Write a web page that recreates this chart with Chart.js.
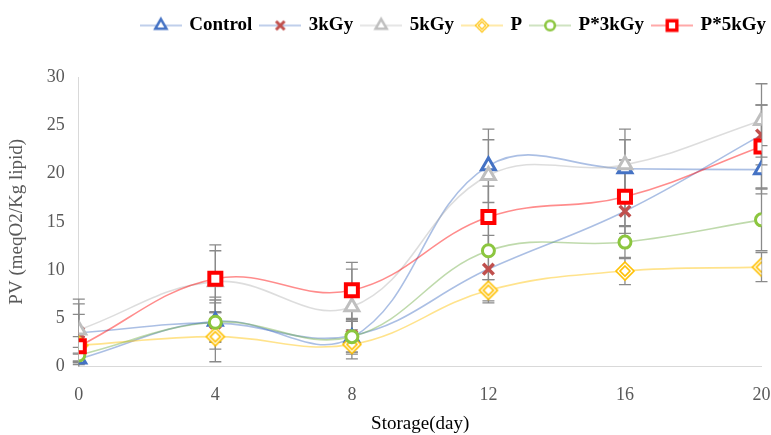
<!DOCTYPE html>
<html>
<head>
<meta charset="utf-8">
<script src="https://cdn.jsdelivr.net/npm/chart.js@4.4.1/dist/chart.umd.min.js"></script>
<style>
  html, body { margin: 0; padding: 0; background: #fff; }
  #wrap { width: 771px; height: 435px; overflow: hidden; }
</style>
</head>
<body>
<div id="wrap"><canvas id="pv-chart" width="774" height="435"></canvas></div>
<script>
// Storage time (days) on the x axis
const days = [0, 4, 8, 12, 16, 20];
const yTicks = [0, 5, 10, 15, 20, 25, 30];

// PV (meqO2/Kg lipid) per treatment
const control = [0.8, 4.7, 3.0, 20.8, 20.5, 20.4];
const kGy3    = [3.5, 4.5, 3.2, 10.1, 16.1, 24.0];
const kGy5    = [3.8, 8.8, 6.2, 19.8, 20.9, 25.5];
const pOnly   = [2.2, 3.1, 2.3, 7.9, 9.9, 10.3];
const p3kGy   = [1.2, 4.6, 3.1, 12.0, 12.9, 15.2];
const p5kGy   = [2.1, 9.1, 7.9, 15.5, 17.6, 22.8];

// +/- error (standard deviation)
const controlErr = [0.6, 2.2, 1.7, 3.8, 3.0, 2.5];
const kGy3Err    = [3.0, 2.7, 1.7, 3.5, 1.6, 3.1];
const kGy5Err    = [3.2, 3.2, 3.9, 3.7, 3.7, 3.8];
const pOnlyErr   = [0.9, 2.6, 1.5, 1.1, 1.4, 1.5];
const p3kGyErr   = [0.8, 2.0, 1.6, 3.0, 1.7, 3.2];
const p5kGyErr   = [3.3, 3.5, 2.9, 3.2, 3.8, 4.3];

const seriesNames = ['Control', '3kGy', '5kGy', 'P', 'P*3kGy', 'P*5kGy'];

// Excel-like double outlined diamond marker
function makeDiamond() {
    const c = document.createElement('canvas');
    c.width = 22; c.height = 22;
    const g = c.getContext('2d');
    const dia = (r) => {
        g.beginPath();
        g.moveTo(11, 11 - r); g.lineTo(11 + r, 11); g.lineTo(11, 11 + r); g.lineTo(11 - r, 11);
        g.closePath();
    };
    g.fillStyle = '#fff';
    dia(9); g.fill();
    g.strokeStyle = '#ffc000';
    g.lineWidth = 1.6;
    dia(9); g.stroke();
    dia(5); g.stroke();
    return c;
}
const diamond = makeDiamond();

function toPoints(values) {
    return values.map((v, i) => ({ x: days[i], y: v }));
}

function series(label, values, errors, lineColor, markColor, style, radius, width, order) {
    return {
        label: label,
        data: toPoints(values),
        errors: errors,
        borderColor: lineColor,
        borderWidth: 1.6,
        pointStyle: style,
        pointRadius: radius,
        pointHoverRadius: radius,
        pointBorderColor: markColor,
        pointBackgroundColor: '#ffffff',
        pointBorderWidth: width,
        markColor: markColor,
        fill: false,
        tension: 0.4,
        order: order
    };
}

const datasets = [
    series(seriesNames[0], control, controlErr, 'rgba(68,114,196,0.45)', '#4472c4', 'triangle', 8, 3, 5),
    series(seriesNames[1], kGy3, kGy3Err, 'rgba(68,114,196,0.45)', '#c0504d', 'crossRot', 7.5, 3.5, 4),
    series(seriesNames[2], kGy5, kGy5Err, 'rgba(170,170,170,0.4)', '#bfbfbf', 'triangle', 8, 3, 3),
    series(seriesNames[3], pOnly, pOnlyErr, 'rgba(255,192,0,0.45)', '#ffc000', diamond, 9, 1.5, 2),
    series(seriesNames[4], p3kGy, p3kGyErr, 'rgba(112,173,71,0.45)', '#8cc63f', 'circle', 6, 3, 1),
    series(seriesNames[5], p5kGy, p5kGyErr, 'rgba(255,0,0,0.45)', '#ff0000', 'rect', 8.5, 4, 0)
];

// legend icon: short line with a smaller marker on it
function legendIcon(ds) {
    const c = document.createElement('canvas');
    c.width = 42; c.height = 20;
    const g = c.getContext('2d');
    g.strokeStyle = ds.borderColor;
    g.lineWidth = 1.6;
    g.beginPath(); g.moveTo(0, 10); g.lineTo(42, 10); g.stroke();
    if (typeof ds.pointStyle !== 'string') {
        g.drawImage(ds.pointStyle, 21 - 8, 10 - 8, 16, 16);
    } else {
        g.strokeStyle = ds.markColor;
        g.fillStyle = '#fff';
        g.lineWidth = ds.pointBorderWidth * 0.85;
        Chart.helpers.drawPoint(g, { pointStyle: ds.pointStyle, radius: ds.pointRadius * 0.8, rotation: 0, borderWidth: g.lineWidth }, 21, 10);
    }
    return c;
}

const errorBars = {
    id: 'errorBars',
    beforeDatasetsDraw(chart) {
        const { ctx, chartArea, scales: { x, y } } = chart;
        ctx.save();
        ctx.beginPath();
        ctx.rect(chartArea.left - 10, chartArea.top - 10, chartArea.width + 20, chartArea.height + 10);
        ctx.clip();
        ctx.strokeStyle = '#8a8a8a';
        ctx.lineWidth = 1.3;
        chart.data.datasets.forEach(ds => {
            ds.data.forEach((pt, i) => {
                const e = ds.errors[i];
                const px = x.getPixelForValue(pt.x);
                const top = y.getPixelForValue(pt.y + e);
                const bot = y.getPixelForValue(pt.y - e);
                ctx.beginPath();
                ctx.moveTo(px, top); ctx.lineTo(px, bot);
                ctx.moveTo(px - 6, top); ctx.lineTo(px + 6, top);
                ctx.moveTo(px - 6, bot); ctx.lineTo(px + 6, bot);
                ctx.stroke();
            });
        });
        ctx.restore();
    }
};

// extra room under the legend
const legendGap = {
    id: 'legendGap',
    beforeInit(chart) {
        const lg = chart.legend;
        const fit = lg.fit;
        lg.fit = function () {
            fit.call(lg);
            lg.height += 32;
        };
        const draw = lg.draw;
        lg.draw = function () {
            lg.right += 1;
            draw.call(lg);
            lg.right -= 1;
        };
    }
};

const serif = '"Liberation Serif", "Times New Roman", serif';

new Chart(document.getElementById('pv-chart'), {
    type: 'line',
    data: { datasets: datasets },
    plugins: [errorBars, legendGap],
    options: {
        responsive: false,
        animation: false,
        layout: { padding: { left: 6, right: 0, top: 7, bottom: 0 } },
        plugins: {
            tooltip: { enabled: false },
            legend: {
                position: 'top',
                align: 'end',
                labels: {
                    usePointStyle: true,
                    pointStyleWidth: 38,
                    padding: 9,
                    color: '#000',
                    font: { family: serif, size: 19, weight: 'bold' },
                    generateLabels(chart) {
                        return chart.data.datasets.map((ds, i) => ({
                            text: ds.label,
                            pointStyle: legendIcon(ds),
                            datasetIndex: i,
                            fillStyle: '#fff',
                            strokeStyle: ds.borderColor,
                            lineWidth: 0,
                            hidden: false
                        }));
                    }
                }
            }
        },
        scales: {
            x: {
                type: 'linear',
                min: 0,
                max: 20,
                afterBuildTicks(axis) { axis.ticks = days.map(v => ({ value: v })); },
                grid: { display: true, drawOnChartArea: false, drawTicks: true, tickLength: 18, tickColor: 'rgba(0,0,0,0)' },
                border: { color: '#d9d9d9' },
                ticks: { color: '#595959', padding: 0, font: { family: serif, size: 18 } },
                title: { display: true, text: 'Storage(day)', color: '#000', font: { family: serif, size: 19 }, padding: { top: 6, bottom: 0 } }
            },
            y: {
                min: 0,
                max: 30,
                afterBuildTicks(axis) { axis.ticks = yTicks.map(v => ({ value: v })); },
                grid: { display: true, drawOnChartArea: false, drawTicks: true, tickLength: 12, tickColor: 'rgba(0,0,0,0)' },
                border: { color: '#d9d9d9' },
                ticks: { color: '#595959', padding: 2, font: { family: serif, size: 18 } },
                title: { display: true, text: 'PV (meqO2/Kg lipid)', color: '#595959', font: { family: serif, size: 19 }, padding: { top: 0, bottom: 16 } }
            }
        }
    }
});
</script>
</body>
</html>
